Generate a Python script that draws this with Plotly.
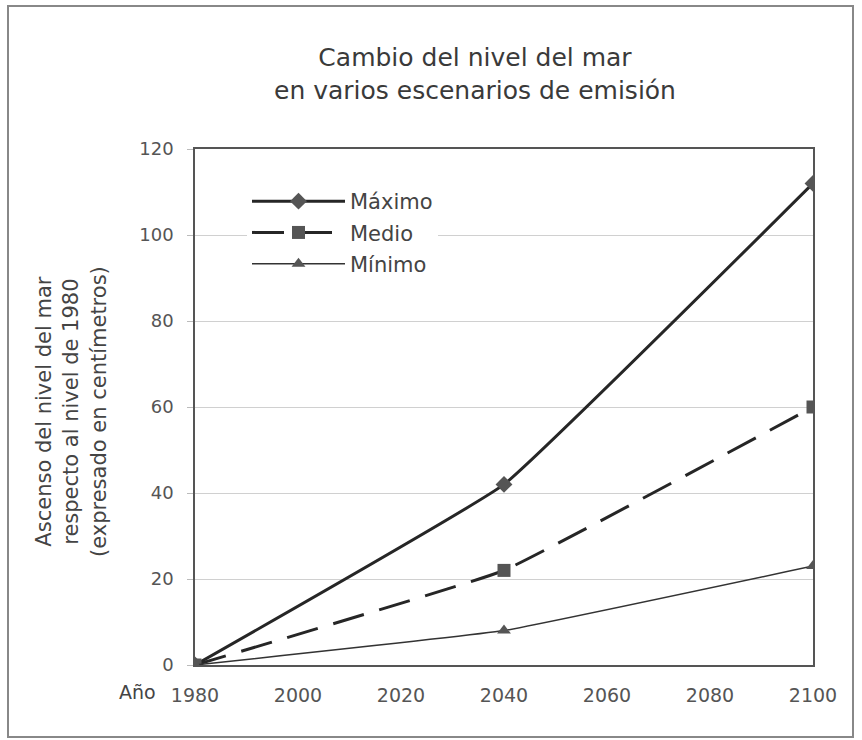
import plotly.graph_objects as go

years = [1980, 2040, 2100]
maximo = [0, 42, 112]
medio = [0, 22, 60]
minimo = [0, 8, 23]
x_ticks = [1980, 2000, 2020, 2040, 2060, 2080, 2100]
y_ticks = [0, 20, 40, 60, 80, 100, 120]

FONT = "DejaVu Sans, Arial, sans-serif"

fig = go.Figure()
fig.add_trace(go.Scatter(
    x=years, y=maximo, name="Máximo", mode="lines+markers", legendgroup="a",
    line=dict(color="#262626", width=3, shape="spline", smoothing=0.25),
    marker=dict(symbol="diamond", size=13, color="#555555"),
))
fig.add_trace(go.Scatter(
    x=years, y=medio, name="Medio", mode="lines+markers", legendgroup="b",
    line=dict(color="#262626", width=3, dash="32px,16px", shape="spline", smoothing=0.25),
    marker=dict(symbol="square", size=13, color="#555555"),
))
fig.add_trace(go.Scatter(
    x=years, y=minimo, name="Mínimo", mode="lines+markers", legendgroup="c",
    line=dict(color="#333333", width=1.5, shape="spline", smoothing=0.25),
    marker=dict(symbol="triangle-up", size=12, color="#555555"),
))

fig.update_layout(
    width=862, height=740,
    margin=dict(l=195, r=49, t=149, b=75),
    paper_bgcolor="white", plot_bgcolor="white",
    font=dict(family=FONT, color="#444444", size=18),
    title=dict(
        text="Cambio del nivel del mar<br>en varios escenarios de emisión",
        x=475 / 862, xanchor="center", y=1 - 66 / 740, yanchor="middle",
        font=dict(size=25, color="#3a3a3a"),
    ),
    xaxis=dict(
        range=[1980, 2100], tickvals=x_ticks,
        showgrid=False, zeroline=False,
        showline=True, linecolor="#555555", linewidth=1.5, mirror=True,
        ticks="", ticklabelstandoff=12,
        tickfont=dict(size=19, color="#555555"),
    ),
    yaxis=dict(
        range=[0, 120], tickvals=y_ticks,
        showgrid=True, gridcolor="#d0d0d0", gridwidth=1, zeroline=False,
        showline=True, linecolor="#555555", linewidth=1.5, mirror=True,
        ticks="outside", ticklen=6, tickcolor="#bbbbbb",
        ticklabelstandoff=10,
        tickfont=dict(size=18, color="#555555"),
    ),
    legend=dict(
        x=(247 - 195) / 618, y=(665 - 181) / 516, xanchor="left", yanchor="top",
        bgcolor="white", font=dict(size=21, color="#444444"),
        itemwidth=93, tracegroupgap=1,
    ),
    showlegend=True,
)

fig.add_annotation(
    text="Ascenso del nivel del mar<br>respecto al nivel de 1980<br>(expresado en centímetros)",
    xref="paper", yref="paper", x=(71 - 195) / 618, y=(665 - 412) / 516,
    textangle=-90, showarrow=False, font=dict(size=21, color="#444444"),
    xanchor="center", yanchor="middle",
)
fig.add_annotation(
    text="Año", xref="paper", yref="paper",
    x=(137 - 195) / 618, y=(665 - 692) / 516,
    showarrow=False, font=dict(size=19, color="#444444"),
    xanchor="center", yanchor="middle",
)
# outer frame
fig.add_shape(
    type="rect", xref="paper", yref="paper",
    x0=(8 - 195) / 618, x1=(853 - 195) / 618,
    y0=(665 - 737) / 516, y1=(665 - 6) / 516,
    line=dict(color="#888888", width=2), layer="below",
)

fig.write_html("out.html")
